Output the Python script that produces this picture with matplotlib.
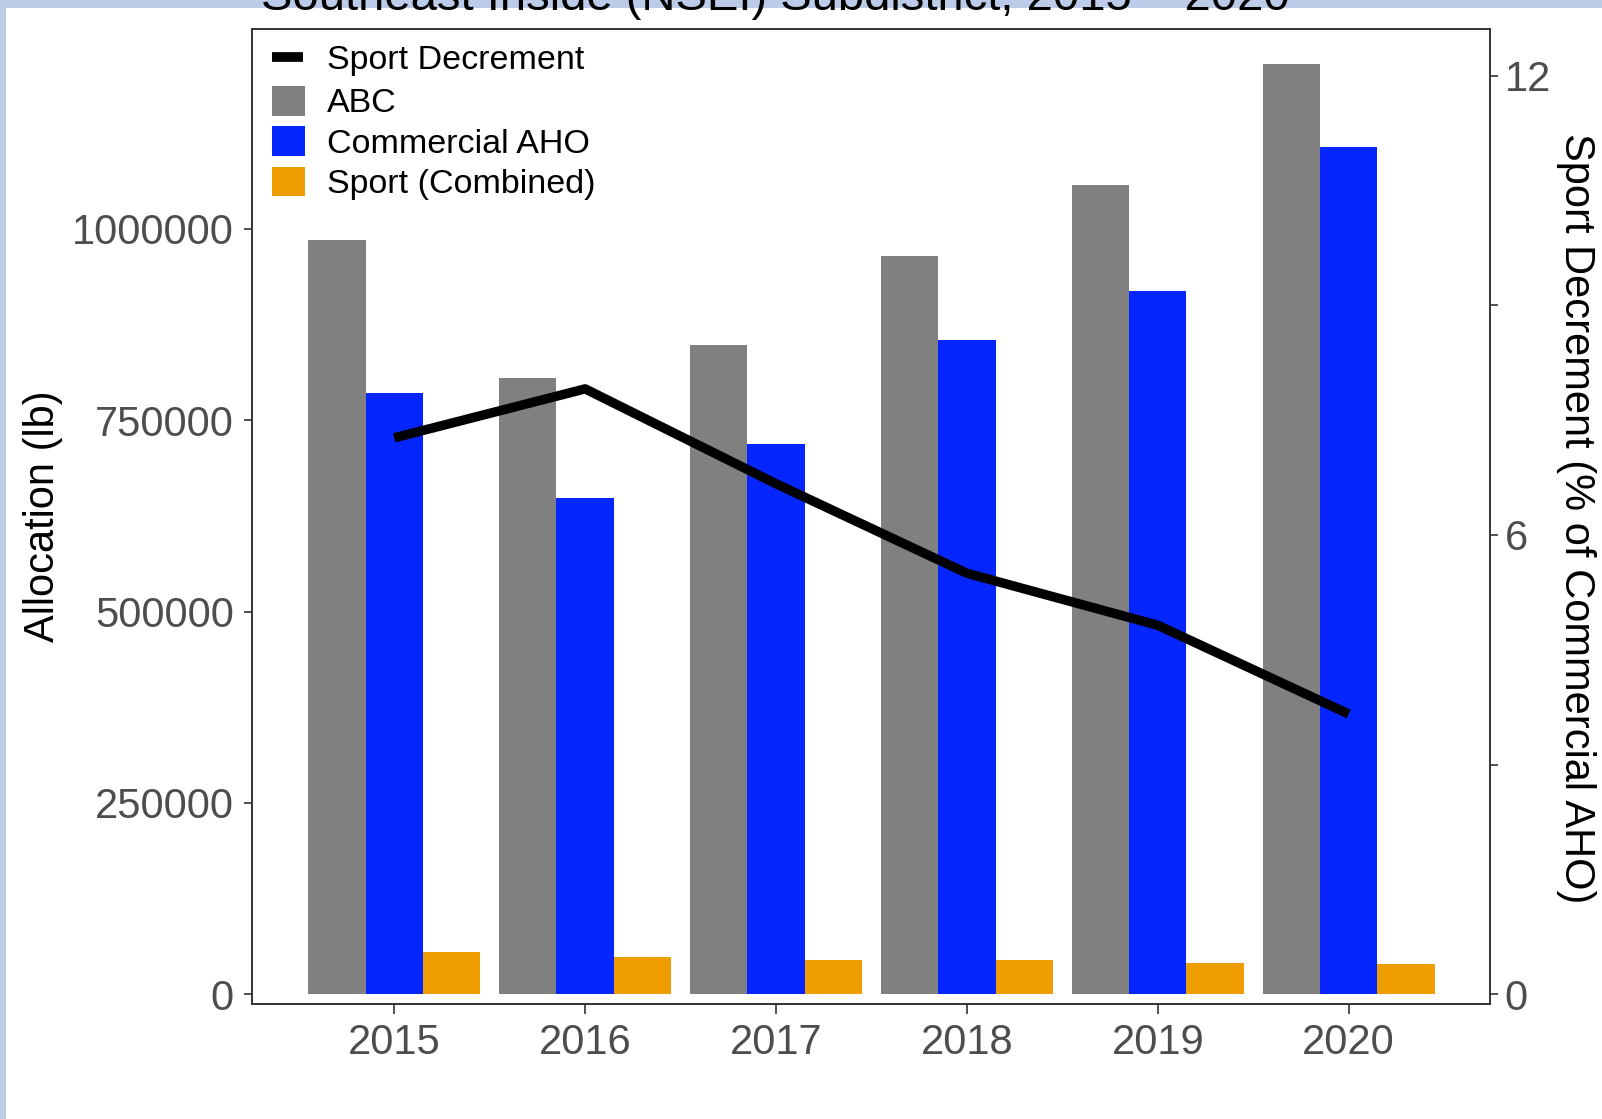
import matplotlib
matplotlib.use("Agg")
import matplotlib.pyplot as plt
from matplotlib.patches import Patch, Rectangle
from matplotlib.lines import Line2D
import numpy as np

plt.rcParams['font.family'] = ['Liberation Sans', 'DejaVu Sans']

# ---- data ----
years = [2015, 2016, 2017, 2018, 2019, 2020]
year_labels = ['2015', '2016', '2017', '2018', '2019', '2020']
abc = [985000, 805000, 848000, 964000, 1057000, 1216000]
commercial_aho = [785000, 649000, 719000, 855000, 919000, 1107000]
sport_combined = [55000, 48000, 45000, 44000, 41000, 39000]
sport_decrement = [7.27, 7.91, 6.67, 5.50, 4.82, 3.66]
left_ticks = [0, 250000, 500000, 750000, 1000000]
left_tick_labels = ['0', '250000', '500000', '750000', '1000000']
right_ticks = [0, 3, 6, 9, 12]
right_tick_labels = ['0', '', '6', '', '12']
title = "Southeast Inside (NSEI) Subdistrict, 2015 \u2013 2020"

W, H = 1602, 1119
fig = plt.figure(figsize=(W / 100, H / 100), dpi=100)
fig.patch.set_facecolor('white')

# light blue frame strips (top and left)
border = '#BCCBE8'
fig.patches.append(Rectangle((0, 1 - 8 / H), 1, 8 / H, transform=fig.transFigure,
                             facecolor=border, edgecolor='none', zorder=0))
fig.patches.append(Rectangle((0, 0), 6 / W, 1, transform=fig.transFigure,
                             facecolor=border, edgecolor='none', zorder=0))

ax_l, ax_r, ax_t, ax_b = 252, 1490, 28.5, 1004
ax = fig.add_axes([ax_l / W, (H - ax_b) / H, (ax_r - ax_l) / W, (ax_b - ax_t) / H])

x = np.array(years, dtype=float)
bw = 0.3
c_abc = '#808080'
c_com = '#0526FF'
c_sport = '#EE9E00'
ax.bar(x - bw, abc, width=bw, color=c_abc, linewidth=0)
ax.bar(x, commercial_aho, width=bw, color=c_com, linewidth=0)
ax.bar(x + bw, sport_combined, width=bw, color=c_sport, linewidth=0)

ylo, yhi = -13000, 1262000
ax.set_ylim(ylo, yhi)
ax.set_xlim(2015 - 0.745, 2020 + 0.74)
ax.set_xticks(years)
ax.set_xticklabels(year_labels)
ax.set_yticks(left_ticks)
ax.set_yticklabels(left_tick_labels)

ax2 = ax.twinx()
ax2.set_ylim(ylo / 1e5, yhi / 1e5)
ax2.plot(x, sport_decrement, color='black', lw=6.8, solid_capstyle='butt',
         solid_joinstyle='round')
ax2.set_yticks(right_ticks)
ax2.set_yticklabels(right_tick_labels)

spine_c = '#333333'
tick_lab_c = '#4D4D4D'
for a in (ax, ax2):
    for s in a.spines.values():
        s.set_color(spine_c)
        s.set_linewidth(1.2)
ax.tick_params(axis='x', length=7.5, width=1.2, color=spine_c, pad=6,
               labelsize=30, labelcolor=tick_lab_c)
ax.tick_params(axis='y', length=6, width=1.2, color=spine_c, pad=7,
               labelsize=30, labelcolor=tick_lab_c)
ax2.tick_params(axis='y', length=6, width=1.2, color=spine_c, pad=4.5,
                labelsize=30, labelcolor=tick_lab_c)

fig.text(43 / W, 1 - 516 / H, 'Allocation (lb)', rotation=90, ha='center',
         va='center', fontsize=30, color='black')
fig.text(1576 / W, 1 - 518 / H, 'Sport Decrement (% of Commercial AHO)', rotation=270,
         ha='center', va='center', fontsize=30, color='black')

fig.text(775 / W, 1 - 10 / H, title, ha='center', va='baseline', fontsize=34,
         color='black', zorder=5)

# legends
leg1 = ax2.legend(handles=[Line2D([], [], color='black', lw=7, solid_capstyle='butt')],
                  labels=['Sport Decrement'], fontsize=24.5, frameon=False,
                  handlelength=0.92, handletextpad=0.7, borderpad=0, borderaxespad=0,
                  loc='center left', bbox_to_anchor=(272 / W, 1 - 60 / H),
                  bbox_transform=fig.transFigure)
ax2.add_artist(leg1)
bar_handles = [Patch(facecolor=c_abc, edgecolor='none'),
               Patch(facecolor=c_com, edgecolor='none'),
               Patch(facecolor=c_sport, edgecolor='none')]
leg2 = ax2.legend(handles=bar_handles, labels=['ABC', 'Commercial AHO', 'Sport (Combined)'],
                  fontsize=24.5, frameon=False, handlelength=0.97, handleheight=0.97,
                  labelspacing=0.2, handletextpad=0.65, borderpad=0, borderaxespad=0,
                  loc='center left', bbox_to_anchor=(272 / W, 1 - 143 / H),
                  bbox_transform=fig.transFigure)

fig.savefig('out.png', dpi=100)
